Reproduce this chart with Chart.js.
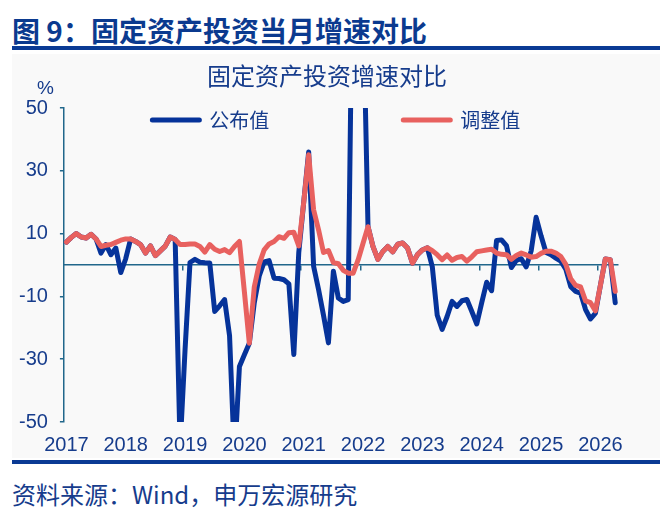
<!DOCTYPE html>
<html lang="zh-CN">
<head>
<meta charset="utf-8">
<title>固定资产投资当月增速对比</title>
<script src="https://cdn.jsdelivr.net/npm/chart.js@4.4.1/dist/chart.umd.min.js"></script>
<style>
  html, body { margin: 0; padding: 0; background: #fff; }
  body { width: 670px; height: 515px; position: relative; overflow: hidden;
         font-family: "Noto Sans CJK SC", sans-serif; color: #163c8c; }
  .header { position: absolute; left: 12px; top: 12px; font-size: 28px; line-height: 36px;
            font-weight: bold; color: #0b3a8f; white-space: nowrap; }
  .rule { position: absolute; left: 12px; width: 648px; height: 4px; background: #0a3a94; }
  .panel { position: absolute; left: 12px; top: 54px; width: 648px; height: 404px; background: #f9f9f9; }
  .chart-title { position: absolute; left: 127px; top: 60px; width: 400px; text-align: center;
                 font-size: 24px; line-height: 30px; }
  .unit { position: absolute; left: 37px; top: 77px; font-family: "Liberation Sans", sans-serif;
          font-size: 19px; line-height: 22px; }
  #chart { position: absolute; left: 7px; top: 54px; }
  .source { position: absolute; left: 12px; top: 479px; font-size: 24px; line-height: 30px; white-space: nowrap; }
</style>
</head>
<body>
<div class="header">图 9：固定资产投资当月增速对比</div>
<div class="rule" style="top:46px"></div>
<div class="panel"></div>
<canvas id="chart" width="653" height="414"></canvas>
<div class="chart-title">固定资产投资增速对比</div>
<div class="unit">%</div>
<div class="rule" style="top:460px"></div>
<div class="source">资料来源：Wind，申万宏源研究</div>

<script>
const years = ['2017', '2018', '2019', '2020', '2021', '2022', '2023', '2024', '2025', '2026'];
const monthNums = ['01', '02', '03', '04', '05', '06', '07', '08', '09', '10', '11', '12'];

// 公布值 (published), monthly yoy %, Jan 2017 onwards
const published = [
  7.3, 8.8, 10.0, 8.9, 8.6, 9.8, 8.3, 3.8, 6.5, 3.3, 5.4, -2.4,
  2.0, 8.3, 7.5, 6.5, 3.8, 6.1, 3.0, 4.5, 6.0, 8.9, 8.1, -58.0,
  -27.0, 0.8, 1.8, 0.9, 0.7, 0.6, -14.8, -13.0, -11.0, -22.5, -62.0, -32.3,
  -28.6, -24.9, -12.0, -3.5, 1.0, 1.4, -4.2, -4.3, -4.7, -6.0, -28.5, 4.0,
  20.0, 36.0, -0.4, -7.8, -16.0, -24.8, -2.0, -10.5, -11.6, -11.0, 115.0, 90.0,
  85.0, 12.2, 5.9, 1.8, 4.3, 5.9, 4.2, 6.6, 7.0, 5.4, 0.6, 3.3,
  4.8, 5.5, -0.5, -16.0, -20.5, -16.4, -11.6, -13.2, -11.4, -11.0, -14.8, -18.8,
  -12.0, -5.5, -8.2, 7.8, 8.0, 6.2, -0.8, 1.5, 2.0, -0.6, 4.5, 15.2,
  9.3, 4.0, 3.3, 2.2, 1.2, -1.3, -6.9, -8.4, -9.0, -14.2, -17.2, -15.3,
  -6.5, 1.9, 1.7, -12.0
];

// 调整值 (adjusted)
const adjusted = [
  7.3, 8.8, 10.0, 8.9, 8.6, 9.8, 8.3, 5.9, 6.3, 6.5, 7.2, 7.9,
  8.3, 8.3, 7.5, 6.5, 3.8, 6.1, 3.0, 4.5, 6.0, 8.9, 8.1, 6.5,
  6.5, 6.7, 6.7, 5.9, 4.1, 6.5, 5.0, 4.3, 4.9, 3.9, 5.9, 7.5,
  -8.5, -24.9, -7.0, 0.3, 4.8, 6.7, 7.5, 9.0, 8.5, 10.3, 10.4, 6.1,
  20.0, 35.1, 17.6, 11.2, 4.0, 4.6, 0.8, 0.4, -1.7, -2.6, -2.6, 1.6,
  6.9, 12.2, 5.9, 1.8, 4.3, 5.9, 4.2, 6.6, 7.0, 5.4, 0.6, 3.3,
  4.8, 5.5, 4.6, 3.3, 1.7, 3.2, 1.5, 2.4, 2.7, 1.2, 2.6, 4.2,
  4.5, 4.8, 5.0, 3.8, 3.4, 3.3, 1.8, 3.0, 3.8, 3.2, 2.5, 2.7,
  3.7, 4.4, 4.4, 3.8, 2.7, 0.2, -4.4, -6.5, -7.0, -11.4, -12.0, -14.6,
  -6.5, 1.9, 1.7, -8.4
];

const yTicks = [-50, -30, -10, 10, 30, 50];

const months = years.flatMap(y => monthNums.map(m => y + '-' + m)).slice(0, adjusted.length);

const NAVY = '#163c8c';
const BLUE = '#06339a';
const RED = '#e8615f';
const AXIS = '#21678b';
// trailing blanks space the two legend entries apart like the original
const legendGap = ['\u3000\u3000\u3000\u3000\u3000    ', '  '];

// legend sits inside the plot: it takes only 14px of layout,
// but its clip box is stretched so the items below that still show
const legendInPlot = {
  id: 'legendInPlot',
  beforeInit(chart) {
    const fit = chart.legend.fit;
    chart.legend.fit = function () {
      fit.call(this);
      this.height = 14;
    };
  },
  afterLayout(chart) {
    chart.legend.bottom = chart.legend.top + 50;
  }
};

const tickFont = { family: 'Liberation Sans', size: 20 };

new Chart(document.getElementById('chart'), {
  type: 'line',
  data: {
    labels: months,
    datasets: [
      { label: '公布值', data: published, borderColor: BLUE, backgroundColor: BLUE,
        borderWidth: 5, pointRadius: 0, borderJoinStyle: 'round', borderCapStyle: 'round', order: 1 },
      { label: '调整值', data: adjusted, borderColor: RED, backgroundColor: RED,
        borderWidth: 5, pointRadius: 0, borderJoinStyle: 'round', borderCapStyle: 'round', order: 0 }
    ]
  },
  options: {
    responsive: false,
    animation: false,
    layout: { padding: { left: 0, right: 42.3, top: 40, bottom: 0 } },
    plugins: {
      tooltip: { enabled: false },
      title: { display: false },
      legend: {
        position: 'top',
        fullSize: false,
        labels: {
          usePointStyle: true,
          pointStyleWidth: 47,
          padding: 16,
          color: NAVY,
          font: { family: 'Noto Sans CJK SC', size: 20 },
          generateLabels: chart => chart.data.datasets.map((ds, i) => ({
            text: ds.label + legendGap[i],
            datasetIndex: i,
            fillStyle: ds.borderColor,
            strokeStyle: ds.borderColor,
            lineWidth: 5,
            lineCap: 'round',
            pointStyle: 'line',
            fontColor: NAVY,
            hidden: false
          }))
        }
      }
    },
    scales: {
      x: {
        type: 'category',
        offset: true,
        border: { display: false },
        grid: { display: false, drawTicks: false },
        ticks: {
          autoSkip: false,
          maxRotation: 0,
          padding: 11,
          color: NAVY,
          font: tickFont,
          callback(value) {
            const label = this.getLabelForValue(value);
            return label.endsWith('-01') ? label.slice(0, 4) : '';
          }
        }
      },
      x2: {
        type: 'category',
        axis: 'x',
        position: { y: 0 },
        offset: true,
        border: { color: AXIS, width: 1.5 },
        grid: {
          offset: true,
          drawOnChartArea: false,
          tickLength: 5,
          lineWidth: 1.5,
          color: ctx => (ctx.index > 0 && ctx.index % 12 === 0 ? AXIS : 'rgba(0,0,0,0)')
        },
        ticks: { display: false }
      },
      y: {
        min: -50,
        max: 50,
        afterBuildTicks: scale => { scale.ticks = yTicks.map(v => ({ value: v })); },
        border: { color: AXIS, width: 1.5 },
        grid: { drawOnChartArea: false, tickLength: 4, lineWidth: 1.5, color: AXIS },
        ticks: { padding: 12, color: NAVY, font: tickFont }
      }
    }
  },
  plugins: [legendInPlot]
});
</script>
</body>
</html>
